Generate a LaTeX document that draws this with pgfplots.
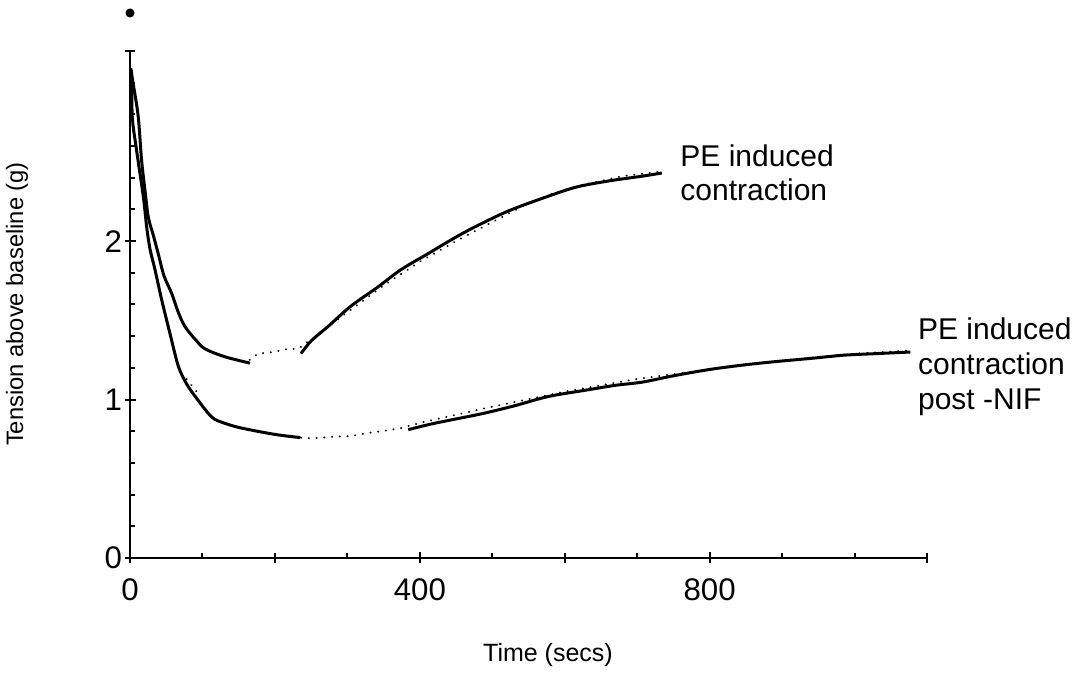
\documentclass[border=0pt]{standalone}
\usepackage{fontspec}
\setmainfont{Liberation Sans}
\usepackage{pgfplots}
\pgfplotsset{compat=1.18}
\begin{document}
\fontsize{12}{14}\selectfont
\begin{tikzpicture}[x=1pt,y=1pt]
\useasboundingbox (-52,-46.8) rectangle (381.6,223.2);
\begin{axis}[at={(0,0)}, anchor=south west, scale only axis,
  width=318.8pt, height=202.8pt,
  xmin=0, xmax=1100, ymin=0, ymax=3.2, clip=false,
  axis x line=bottom, axis y line=left,
  axis line style={-, line width=0.9pt},
  /pgf/number format/assume math mode=true,
  tick label style={font=\fontsize{12.5}{14}\selectfont},
  xtick={0,400,800}, ytick={0,1,2},
  minor xtick={100,200,...,1100},
  minor ytick={0.2,0.4,0.6,0.8,1.0,1.2,1.4,1.6,1.8,2.0,2.2,2.4,2.6,2.8,3.0,3.2},
  tick align=inside, major tick length=2.2pt, minor tick length=2pt,
  tick style={black, line width=0.8pt},
  extra x ticks={0,200,400,600,800,1100}, extra x tick labels={},
  extra x tick style={tick align=outside, major tick length=2pt},
  extra y ticks={0,1,2,3.2}, extra y tick labels={},
  extra y tick style={tick align=outside, major tick length=2pt},
  xticklabel style={yshift=-4pt},
  yticklabel style={xshift=1pt},
]
% stray dot above the axis
\addplot[only marks, mark=*, mark size=1.6pt, black] coordinates {(0,3.44)};

% fitted curves (dotted)
\addplot[black, line width=0.8pt, line cap=round, dash pattern=on 0.1pt off 3pt] coordinates {
(165,1.25) (177,1.29) (198,1.30) (218,1.32) (232,1.32) (250,1.38) (300,1.55) (350,1.72) (400,1.87)
(450,2.00) (500,2.12) (546,2.23) (583,2.30) (620,2.35) (680,2.41) (734,2.44)};
\addplot[black, line width=0.8pt, line cap=round, dash pattern=on 0.1pt off 3pt] coordinates {
(78,1.13) (85,1.09) (92,1.05) (99,1.02)};
\addplot[black, line width=0.8pt, line cap=round, dash pattern=on 0.1pt off 3pt] coordinates {
(236,0.76) (250,0.755) (280,0.765) (305,0.77) (330,0.79) (347,0.80) (374,0.82) (390,0.84)
(402,0.855) (495,0.95) (600,1.05) (700,1.13) (800,1.19) (900,1.245) (1000,1.29) (1077,1.31)};

% PE induced contraction (solid)
\addplot[black, line width=1.2pt, smooth] coordinates {
(1,3.08) (2.3,3.05) (6,2.95) (11.5,2.78) (16,2.51) (20.7,2.32) (25.3,2.15) (32,2.04)
(39,1.92) (47,1.78) (57.5,1.67) (66.7,1.55) (76,1.46) (90,1.38) (103.5,1.32) (131,1.27) (165.6,1.23)};
\addplot[black, line width=1.2pt, smooth] coordinates {
(236,1.29) (250,1.37) (273,1.46) (305,1.59) (342,1.71) (374,1.82) (411,1.92) (444,2.01)
(476,2.09) (522,2.19) (569,2.27) (615,2.34) (661,2.38) (707,2.41) (734,2.43)};

% PE induced contraction post-NIF (solid)
\addplot[black, line width=1.2pt, smooth] coordinates {
(1,3.08) (2.3,3.05) (3.2,2.78) (9.2,2.57) (18.4,2.28) (23,2.09) (27.6,1.95) (34.5,1.82)
(43.7,1.63) (55,1.42) (66.7,1.21) (78,1.10) (90,1.02) (112.7,0.89) (131,0.85) (154,0.82)
(200,0.78) (235,0.76)};
\addplot[black, line width=1.2pt, smooth] coordinates {
(384,0.81) (420,0.85) (485,0.91) (530,0.96) (578,1.02) (630,1.06) (670,1.09) (707,1.11)
(750,1.15) (800,1.19) (850,1.22) (892,1.24) (940,1.26) (985,1.28) (1030,1.29) (1077,1.30)};

\node[anchor=west, align=left, inner sep=0pt, font=\fontsize{12}{13.5}\selectfont]
  at (axis cs:759,2.43) {PE induced\\contraction};
\node[anchor=west, align=left, inner sep=0pt, font=\fontsize{12}{14}\selectfont]
  at (axis cs:1087,1.21) {PE induced\\contraction\\post -NIF};
\end{axis}
\node[rotate=90, font=\fontsize{9.5}{11}\selectfont] at (-45.2,101.6) {Tension above baseline (g)};
\node[font=\fontsize{10}{12}\selectfont] at (167.2,-38.8) {Time (secs)};
\end{tikzpicture}
\end{document}
